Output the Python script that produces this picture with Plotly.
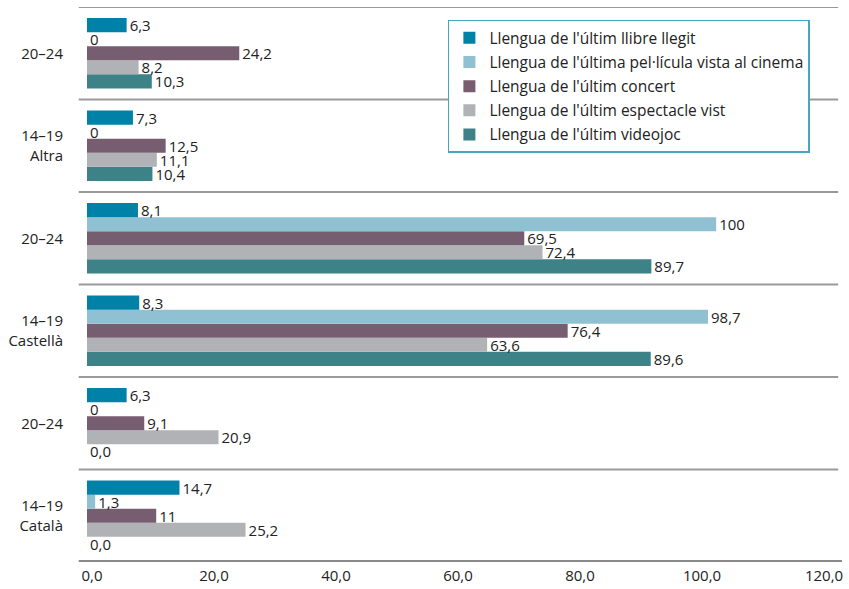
import plotly.graph_objects as go

# Groups, top to bottom
group_labels = ["20–24", "14–19<br>Altra", "20–24", "14–19<br>Castellà", "20–24", "14–19<br>Català"]

series_names = [
    "Llengua de l'últim llibre llegit",
    "Llengua de l'última pel·lícula vista al cinema",
    "Llengua de l'últim concert",
    "Llengua de l'últim espectacle vist",
    "Llengua de l'últim videojoc",
]
series_colors = ["#0081A8", "#90C1D3", "#775D70", "#B1B2B6", "#3D8286"]

# values per series, groups top to bottom
llibre = [6.3, 7.3, 8.1, 8.3, 6.3, 14.7]
pelicula = [0, 0, 100, 98.7, 0, 1.3]
concert = [24.2, 12.5, 69.5, 76.4, 9.1, 11]
espectacle = [8.2, 11.1, 72.4, 63.6, 20.9, 25.2]
videojoc = [10.3, 10.4, 89.7, 89.6, 0, 0]

# data labels as printed
llibre_txt = ["6,3", "7,3", "8,1", "8,3", "6,3", "14,7"]
pelicula_txt = ["0", "0", "100", "98,7", "0", "1,3"]
concert_txt = ["24,2", "12,5", "69,5", "76,4", "9,1", "11"]
espectacle_txt = ["8,2", "11,1", "72,4", "63,6", "20,9", "25,2"]
videojoc_txt = ["10,3", "10,4", "89,7", "89,6", "0,0", "0,0"]

x_ticks = [0, 20, 40, 60, 80, 100, 120]

values = [llibre, pelicula, concert, espectacle, videojoc]
texts = [llibre_txt, pelicula_txt, concert_txt, espectacle_txt, videojoc_txt]

n = len(group_labels)
ypos = [n - 1 - i for i in range(n)]  # top group has highest y

FONT = "Open Sans"
fig = go.Figure()
# add in reverse so that first series sits at top of each group
for k in reversed(range(len(series_names))):
    fig.add_trace(go.Bar(
        x=values[k], y=ypos, orientation="h",
        name=series_names[k], marker=dict(color=series_colors[k], line=dict(width=0)),
        text=texts[k], textposition="outside", constraintext="none", cliponaxis=False,
        textfont=dict(size=15, color="#222222", family=FONT),
        legendgroup=str(k), legendrank=k + 1, hoverinfo="skip",
    ))

# invisible helper trace for the tick-label axis
fig.add_trace(go.Scatter(x=[0], y=[0], xaxis="x2", mode="markers",
                         marker=dict(opacity=0), showlegend=False, hoverinfo="skip"))

shapes = []
for b in [i + 0.5 for i in range(n)]:
    shapes.append(dict(type="line", xref="paper", yref="y", x0=-0.011, x1=0.995, y0=b, y1=b,
                       line=dict(color="#9a9a9a", width=2)))
shapes.append(dict(type="line", xref="paper", yref="y", x0=-0.011, x1=1.0, y0=-0.5, y1=-0.5,
                   line=dict(color="#8a8a8a", width=4)))

fig.update_layout(
    width=849, height=589,
    margin=dict(l=87, r=7, t=7, b=27, autoexpand=False),
    paper_bgcolor="white", plot_bgcolor="white",
    barmode="group", bargap=0.24, bargroupgap=0,
    separators=",.",
    font=dict(family=FONT, color="#222222", size=15),
    showlegend=True,
    legend=dict(x=0.478, y=0.977, xanchor="left", yanchor="top",
                traceorder="grouped", bgcolor="white",
                bordercolor="#45A5C4", borderwidth=1.5,
                font=dict(size=15.5, color="#222222", family=FONT),
                tracegroupgap=1),
    xaxis=dict(range=[0, 120], showticklabels=False, showgrid=False, zeroline=False,
               showline=False, fixedrange=True, automargin=False),
    xaxis2=dict(overlaying="x", anchor="y", side="bottom", range=[-0.82, 122.95],
                tickvals=x_ticks, tickformat=".1f", showgrid=False, zeroline=False,
                showline=False, automargin=False, ticklabelstandoff=3,
                tickfont=dict(size=15, color="#222222", family=FONT)),
    yaxis=dict(range=[-0.5, n - 0.5], tickvals=ypos, ticktext=group_labels,
               showgrid=False, zeroline=False, showline=False, ticklabelstandoff=23,
               automargin=False,
               tickfont=dict(size=15, color="#222222", family=FONT)),
    shapes=shapes,
)

fig.write_html("out.html", config={"displayModeBar": False},
               post_script="document.body.style.margin='0';document.body.style.padding='0';")
